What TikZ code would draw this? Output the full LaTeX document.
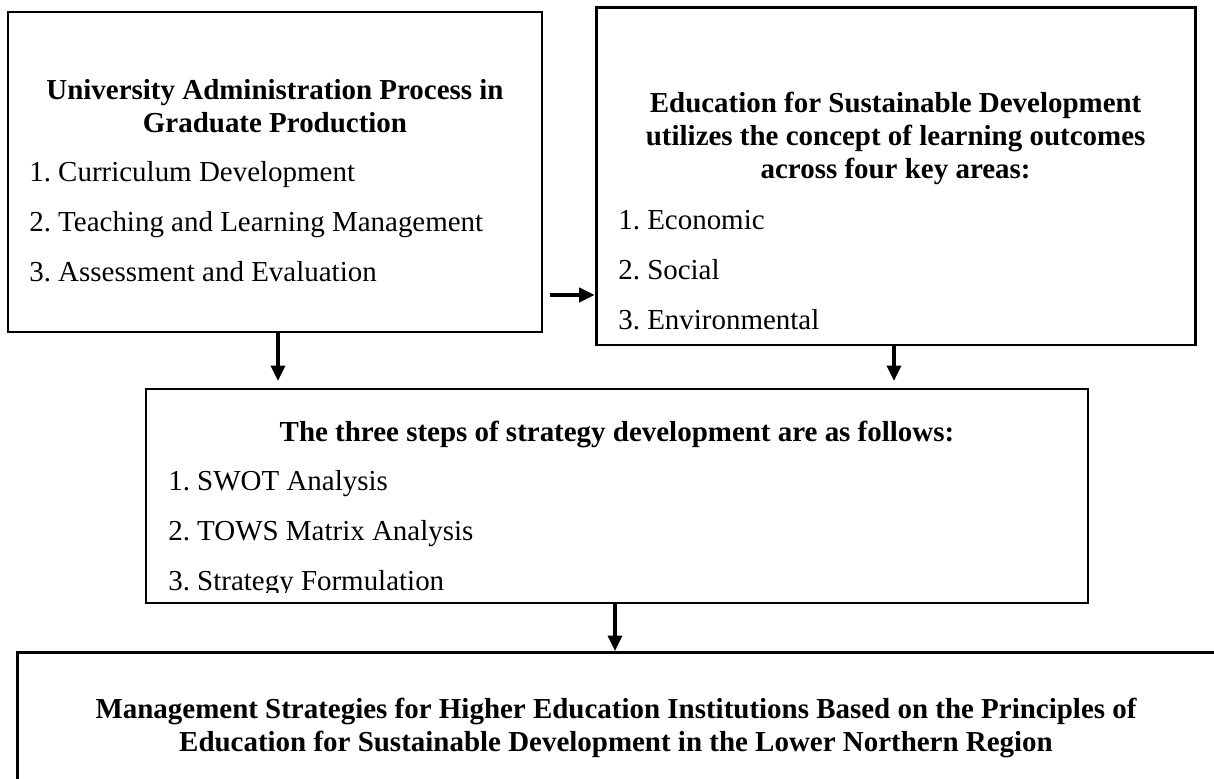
\documentclass[tikz,border=0pt]{standalone}
\usepackage{fontspec}
\setmainfont{Liberation Serif}
\usetikzlibrary{arrows.meta}

\begin{document}
\frenchspacing
\begin{tikzpicture}[
    >={Triangle[length=11pt,width=10pt]},
    info box/.style={draw, line width=2pt, inner sep=0pt},
    title text/.style={align=center, inner sep=0pt, font=\fontsize{20.6}{23.5}\selectfont\bfseries},
    item text/.style={align=left, anchor=west, inner sep=0pt, font=\fontsize{20.6}{35.6}\selectfont},
    connection/.style={->, line width=2.3pt}
]

% Page frame
\useasboundingbox (0,0) rectangle (30.35,-19.45);

% The four boxes
\node[info box, minimum width=13.35cm, minimum height=8cm] (admin) at (6.875,-4.3) {};
\node[info box, minimum width=14.975cm, minimum height=8.425cm] (esd) at (22.39,-4.41) {};
\node[info box, minimum width=23.55cm, minimum height=5.35cm] (steps) at (15.425,-12.4) {};
\node[info box, minimum width=30.2cm, minimum height=3.5cm, anchor=north west] (strategy) at (0.4,-16.275) {}; % runs off the page

% Administration box
\node[title text] (admin title) at (6.875,-2.65) {University Administration Process in\\Graduate Production};
\node[item text] (admin list) at (0.725,-5.55) {1. Curriculum Development\\2. Teaching and Learning Management\\3. Assessment and Evaluation};

% ESD box
\node[title text] (esd title) at (22.39,-3.47) {Education for Sustainable Development\\utilizes the concept of learning outcomes\\across four key areas:};
\node[item text] (esd list) at (15.45,-6.75) {1. Economic\\2. Social\\3. Environmental};

% Strategy steps box (last line is cut by the frame)
\node[title text] (steps title) at (15.425,-10.85) {The three steps of strategy development are as follows:};
\begin{scope}
    \clip (3.65,-9.725) rectangle (27.2,-14.8);
    \node[item text] (steps list) at (4.2,-13.35) {1. SWOT Analysis\\2. TOWS Matrix Analysis\\3. Strategy Formulation};
\end{scope}

% Result box
\node[title text] (strategy title) at (15.4,-18.21) {Management Strategies for Higher Education Institutions Based on the Principles of\\Education for Sustainable Development in the Lower Northern Region};

% Arrows
\coordinate (join) at (13.75,-7.375);
\draw[connection] (join) -- (join -| esd.west);

\coordinate (admin tip) at (6.95,-9.525);
\draw[connection] (admin.south -| admin tip) -- (admin tip);

\coordinate (esd tip) at (22.35,-9.525);
\draw[connection] (esd.south -| esd tip) -- (esd tip);

\coordinate (steps out) at (15.375,0);
\draw[connection] (steps.south -| steps out) -- (strategy.north -| steps out);

\end{tikzpicture}
\end{document}
